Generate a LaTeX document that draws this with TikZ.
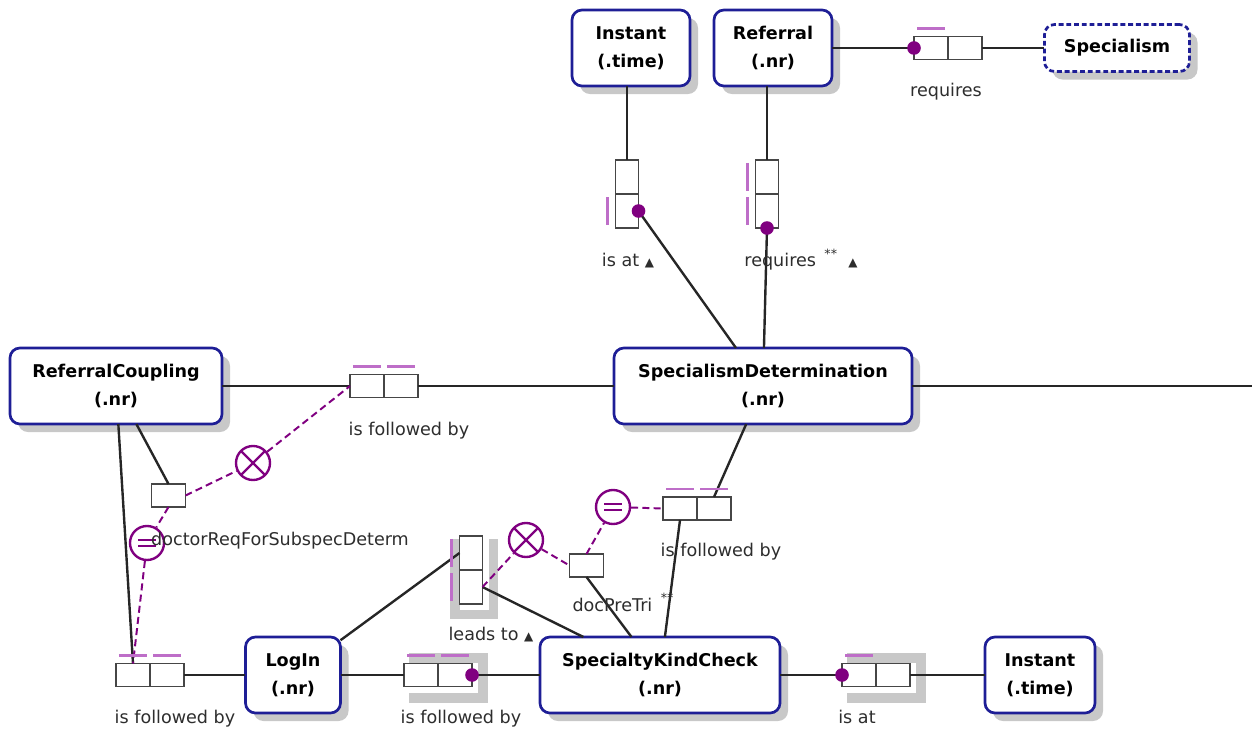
\documentclass[tikz,border=0pt]{standalone}
\usepackage{fontspec}
\setmainfont{DejaVu Sans}
\usetikzlibrary{positioning,shadows,backgrounds}

\definecolor{entblue}{RGB}{30,30,150}
\definecolor{cpurple}{RGB}{128,0,128}
\definecolor{ubarcol}{RGB}{190,110,200}
\definecolor{rolegray}{RGB}{70,70,70}
\definecolor{shadegray}{RGB}{200,200,200}
\definecolor{lbltext}{RGB}{45,45,45}

\newcommand{\tri}{{\fontsize{8.5}{8.5}\selectfont ▲}}
\newcommand{\stars}{\raisebox{0.9ex}{\fontsize{9}{9}\selectfont **}}

\tikzset{
		basic/.style  = {draw, rectangle, inner sep=0pt, outer sep=0pt},
		entity/.style = {basic, draw=entblue, line width=1.9pt, rounded corners=2.5mm, fill=white, align=center,
			font=\fontsize{12.5}{20}\selectfont\bfseries, minimum height=19mm,
			drop shadow={shadow xshift=2mm, shadow yshift=-2mm, fill=shadegray, opacity=1}},
		role/.style   = {basic, draw=rolegray, line width=1.3pt, fill=white, minimum width=8.5mm, minimum height=5.75mm},
		vrole/.style  = {role, minimum width=5.75mm, minimum height=8.5mm},
		cons/.style   = {circle, draw=cpurple, line width=1.7pt, fill=white, minimum size=8.5mm, inner sep=0pt},
		exclusion/.style = {cons, path picture={
			\draw[cpurple, line width=1.7pt] (path picture bounding box.north west) -- (path picture bounding box.south east)
				(path picture bounding box.south west) -- (path picture bounding box.north east);}},
		equality/.style = {cons, path picture={
			\draw[cpurple, line width=1.7pt] ([xshift=-2.2mm, yshift=0.8mm]path picture bounding box.center) -- ++(4.4mm,0pt)
				([xshift=-2.2mm, yshift=-0.8mm]path picture bounding box.center) -- ++(4.4mm,0pt);}},
		lbl/.style    = {text=lbltext, inner sep=1pt, anchor=base, font=\fontsize{12.5}{15}\selectfont},
		conn/.style   = {draw=black!85, line width=1.7pt},
		cline/.style  = {draw=cpurple, line width=1.4pt, dash pattern=on 5pt off 3pt},
		ubar/.style   = {draw=ubarcol, line width=1.9pt}
	}

\begin{document}
\begin{tikzpicture}[x=0.025cm, y=-0.025cm]
		\useasboundingbox (0,0) rectangle (1252,735);
		
		% object types
		\node[entity, minimum width=29.5mm] (inst1) at (631,48) {Instant\\(.time)};
		\node[entity, minimum width=29.5mm] (ref) at (773,48) {Referral\\(.nr)};
		\node[entity, dash pattern=on 3.5pt off 2pt, minimum width=36.25mm, minimum height=11.75mm] (spec) at (1117,48) {Specialism};
		\node[entity, minimum width=53mm] (rc) at (116,386) {ReferralCoupling\\(.nr)};
		\node[entity, minimum width=74.5mm] (sd) at (763,386) {SpecialismDetermination\\(.nr)};
		\node[entity, minimum width=23.75mm] (login) at (293,675) {LogIn\\(.nr)};
		\node[entity, minimum width=60mm] (skc) at (660,675) {SpecialtyKindCheck\\(.nr)};
		\node[entity, minimum width=27.5mm] (inst2) at (1040,675) {Instant\\(.time)};
		\coordinate (rim) at (1252,386);
		
		% fact types, one box per role
		\node[role] (reqS1) at (931,48) {};
		\node[role, right=0pt of reqS1] (reqS2) {};
		\node[vrole] (isat1) at (627,177) {};
		\node[vrole, below=0pt of isat1] (isat2) {};
		\node[vrole] (reqR1) at (767,177) {};
		\node[vrole, below=0pt of reqR1] (reqR2) {};
		\node[role] (folA1) at (367,386) {};
		\node[role, right=0pt of folA1] (folA2) {};
		\node[role] (folB1) at (133,675) {};
		\node[role, right=0pt of folB1] (folB2) {};
		\node[role] (folC1) at (421,675) {};
		\node[role, right=0pt of folC1] (folC2) {};
		\node[role] (folD1) at (680,508.5) {};
		\node[role, right=0pt of folD1] (folD2) {};
		\node[vrole] (lead1) at (471,553) {};
		\node[vrole, below=0pt of lead1] (lead2) {};
		\node[role] (isatB1) at (859,675) {};
		\node[role, right=0pt of isatB1] (isatB2) {};
		% unary fact types
		\node[role] (docReq) at (168.5,495.5) {};
		\node[role] (docPre) at (586.5,565.5) {};
		
		% grey shadows of the fact types drawn twice
		\begin{scope}[on background layer]
		\foreach \f in {folC,isatB} {
			\fill[shadegray] ([shift={(5,-10)}]\f1.north west) rectangle ([shift={(16,16)}]\f2.south east);
			\fill[white] (\f1.north west) rectangle ([shift={(6,6)}]\f2.south east);
		}
		\foreach \f in {lead} {
			\fill[shadegray] ([shift={(-10,3)}]\f1.north west) rectangle ([shift={(15,15)}]\f2.south east);
			\fill[white] (\f1.north west) rectangle ([shift={(6,6)}]\f2.south east);
		}
		\end{scope}
		
		% constraints
		\node[exclusion] (exc1) at (253,463) {};
		\node[equality] (equ1) at (147,543) {};
		\node[exclusion] (exc2) at (526,540) {};
		\node[equality] (equ2) at (613,507) {};
		
		% role connectors
		\draw[conn] (ref) -- (reqS1);
		\draw[conn] (reqS2) -- (spec);
		\draw[conn] (isat1.north) -- (isat1.north |- inst1.south);
		\draw[conn] (reqR1.north) -- (reqR1.north |- ref.south);
		\draw[conn] (isat2.east) -- (sd);
		\draw[conn] (reqR2.south) -- (sd);
		\draw[conn] (rc) -- (folA1);
		\draw[conn] (folA2) -- (sd);
		\draw[conn] (sd) -- (rim);
		\draw[conn] (docReq.north) -- (rc);
		\draw[conn] (folB1.north) -- (rc);
		\draw[conn] (folB2) -- (login);
		\draw[conn] (login) -- (folC1);
		\draw[conn] (folC2) -- (skc);
		\draw[conn] (lead1.west) -- (login);
		\draw[conn] (lead2.east) -- (skc);
		\draw[conn] (docPre.south) -- (skc);
		\draw[conn] (folD2.north) -- (sd);
		\draw[conn] (folD1.south) -- (skc);
		\draw[conn] (skc) -- (isatB1);
		\draw[conn] (isatB2) -- (inst2);
		
		% constraint connectors
		\draw[cline] (docReq.east) -- (exc1) -- (folA1.west);
		\draw[cline] (docReq.south) -- (equ1) -- (folB1.north);
		\draw[cline] (lead2.east) -- (exc2) -- (docPre.west);
		\draw[cline] (docPre.north) -- (equ2) -- (folD1.west);
		
		% uniqueness bars
		\foreach \r in {reqS1,folA1,folA2,folB1,folB2,folC1,folC2,folD1,folD2,isatB1}
		\draw[ubar] ([shift={(3,-8)}]\r.north west) -- ([shift={(-3,-8)}]\r.north east);
		
		\foreach \r in {isat2,reqR1,reqR2,lead1,lead2}
		\draw[ubar] ([shift={(-8,3)}]\r.north west) -- ([shift={(-8,-3)}]\r.south west);
		
		% mandatory role dots
		\foreach \p in {reqS1.west,isat2.east,reqR2.south,folC2.east,isatB1.west}
		\fill[cpurple] (\p) circle (1.7mm);
		
		% readings, placed on their baselines
		\node[lbl] (lreqS) at (946,97) {requires};
		\node[lbl] (lisat) at (628,267) {is at \tri};
		\node[lbl] (lreqR) at (801,267) {requires\hspace{6pt}\stars\hspace{8pt}\tri};
		\node[lbl] (lfolA) at (409,435) {is followed by};
		\node[lbl] (ldocReq) at (280,545) {doctorReqForSubspecDeterm};
		\node[lbl] (lfolB) at (175,723) {is followed by};
		\node[lbl] (lfolC) at (461,723) {is followed by};
		\node[lbl] (llead) at (491,640) {leads to \tri};
		\node[lbl] (ldocPre) at (623,611) {docPreTri\hspace{6pt}\stars};
		\node[lbl] (lfolD) at (721,556) {is followed by};
		\node[lbl] (lisatB) at (857,723) {is at};
		
	\end{tikzpicture}
\end{document}
